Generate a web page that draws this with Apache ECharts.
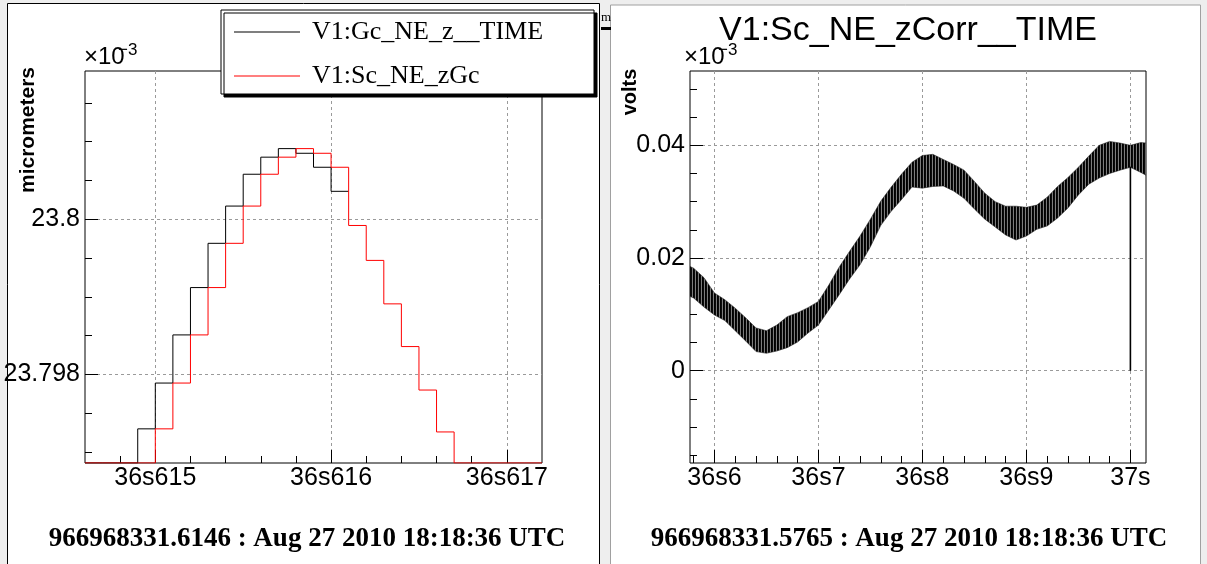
<!DOCTYPE html>
<html><head><meta charset="utf-8">
<script src="https://cdn.jsdelivr.net/npm/echarts@6/dist/echarts.min.js"></script>
<style>html,body{margin:0;padding:0;background:#eeeeee;} #c{width:1207px;height:564px;}</style>
</head><body><div id="c"></div>
<script>
// ---------- LEFT PAD: histograms (values in units of 1e-3 micrometers) ----------
const LEFT_BIN_TIMES = [36.6146, 36.6147, 36.6148, 36.6149, 36.6150, 36.6151, 36.6152, 36.6153, 36.6154,
  36.6155, 36.6156, 36.6157, 36.6158, 36.6159, 36.6160, 36.6161, 36.6162, 36.6163, 36.6164, 36.6165,
  36.6166, 36.6167, 36.6168, 36.6169, 36.6170, 36.6171];
const LEFT_BIN_WIDTH = 0.0001;
const BELOW = 23.7965; // below the frame: ROOT draws these on the frame bottom
const GC_VALUES = [BELOW, BELOW, BELOW, 23.79730, 23.79789, 23.79851, 23.79912, 23.79969, 23.80017,
  23.80058, 23.80080, 23.80091, 23.80085, 23.80067, 23.80036];
const SC_VALUES = [BELOW, BELOW, BELOW, BELOW, 23.79730, 23.79789, 23.79851, 23.79912, 23.79969, 23.80017,
  23.80058, 23.80080, 23.80091, 23.80085, 23.80067, 23.79992, 23.79947, 23.79891, 23.79836, 23.79780,
  23.79726, BELOW, BELOW, BELOW, BELOW, BELOW];
const LEFT_X_MIN = 36.6146, LEFT_X_MAX = 36.6172;
const LEFT_Y_MIN = 23.79686, LEFT_Y_MAX = 23.80191;
const LEFT_X_MAJOR = [36.615, 36.616, 36.617];
const LEFT_X_LABELS = ['36s615', '36s616', '36s617'];
const LEFT_X_MINOR = [36.6148, 36.6152, 36.6154, 36.6156, 36.6158, 36.6162, 36.6164, 36.6166, 36.6168];
const LEFT_Y_MAJOR = [23.798, 23.8];
const LEFT_Y_LABELS = ['23.798', '23.8'];
const LEFT_Y_MINOR = [23.797, 23.7975, 23.7985, 23.799, 23.7995, 23.8005, 23.801, 23.8015];

// ---------- RIGHT PAD: V1:Sc_NE_zCorr__TIME (units of 1e-3 volts) ----------
const BAND_TIME = [36.5765, 36.58, 36.59, 36.60, 36.61, 36.62, 36.63, 36.64, 36.65, 36.66, 36.67, 36.68,
  36.69, 36.70, 36.71, 36.72, 36.73, 36.74, 36.75, 36.76, 36.77, 36.78, 36.79, 36.80, 36.81, 36.82, 36.83,
  36.84, 36.85, 36.86, 36.87, 36.88, 36.89, 36.90, 36.91, 36.92, 36.93, 36.94, 36.95, 36.96, 36.97, 36.98,
  36.99, 37.00, 37.01, 37.015];
const BAND_TOP = [0.0185, 0.0182, 0.0165, 0.0138, 0.0126, 0.0111, 0.0094, 0.0076, 0.0071, 0.0081, 0.0096,
  0.0103, 0.0112, 0.0123, 0.0152, 0.0184, 0.0212, 0.0239, 0.0269, 0.0301, 0.0326, 0.0349, 0.0370, 0.0382,
  0.0384, 0.0375, 0.0366, 0.0356, 0.0336, 0.0315, 0.0300, 0.0292, 0.0292, 0.0290, 0.0294, 0.0308, 0.0327,
  0.0343, 0.0361, 0.0381, 0.0400, 0.0407, 0.0404, 0.0400, 0.0405, 0.0404];
const BAND_BOTTOM = [0.0132, 0.0129, 0.0113, 0.0099, 0.0089, 0.0071, 0.0053, 0.0034, 0.0031, 0.0035, 0.0041,
  0.0051, 0.0067, 0.0081, 0.0108, 0.0135, 0.0163, 0.0188, 0.0220, 0.0258, 0.0283, 0.0304, 0.0326, 0.0324,
  0.0327, 0.0328, 0.0319, 0.0306, 0.0287, 0.0269, 0.0255, 0.0241, 0.0232, 0.0239, 0.0251, 0.0257, 0.0271,
  0.0289, 0.0312, 0.0331, 0.0342, 0.0350, 0.0356, 0.0361, 0.0352, 0.0347];
const SPIKE_TIME = 37.0, SPIKE_FROM = 0.0362, SPIKE_VALUE = 0;
const RIGHT_X_MIN = 36.5765, RIGHT_X_MAX = 37.015;
const RIGHT_Y_MIN = -0.01637, RIGHT_Y_MAX = 0.05319;
const RIGHT_X_MAJOR = [36.6, 36.7, 36.8, 36.9, 37.0];
const RIGHT_X_LABELS = ['36s6', '36s7', '36s8', '36s9', '37s'];
const RIGHT_X_MINOR = [36.58, 36.62, 36.64, 36.66, 36.68, 36.72, 36.74, 36.76, 36.78, 36.82, 36.84, 36.86,
  36.88, 36.92, 36.94, 36.96, 36.98];
const RIGHT_Y_MAJOR = [0, 0.02, 0.04];
const RIGHT_Y_LABELS = ['0', '0.02', '0.04'];
const RIGHT_Y_MINOR = [-0.015, -0.01, -0.005, 0.005, 0.01, 0.015, 0.025, 0.03, 0.035, 0.045, 0.05];

// ---------- helpers ----------
const SANS = 'Liberation Sans', SERIF = 'Liberation Serif';
function labelFor(list, labels) {
  return function (v) {
    let bi = 0;
    for (let i = 1; i < list.length; i++) if (Math.abs(v - list[i]) < Math.abs(v - list[bi])) bi = i;
    return labels[bi];
  };
}
function axisPair(dim, grid, min, max, major, labels, minor) {
  const pos = dim === 'x' ? 'bottom' : 'left';
  return [
    { type: 'value', gridIndex: grid, min: min, max: max, position: pos,
      axisLine: { show: false, onZero: false },
      axisTick: { show: true, inside: true, length: 13, customValues: major, lineStyle: { color: '#000', width: 1 } },
      axisLabel: { show: true, customValues: major, formatter: labelFor(major, labels), color: '#000',
        fontFamily: SANS, fontSize: 25, lineHeight: 25, margin: dim === 'x' ? 3 : 5 },
      splitLine: { show: true, lineStyle: { color: '#9a9a9a', type: [3, 3], width: 1 } },
      minorTick: { show: false }, minorSplitLine: { show: false } },
    { type: 'value', gridIndex: grid, min: min, max: max, position: pos,
      axisLine: { show: false, onZero: false },
      axisTick: { show: true, inside: true, length: 7, customValues: minor, lineStyle: { color: '#000', width: 1 } },
      axisLabel: { show: false }, splitLine: { show: false } }
  ];
}
function stepPoints(times, values) {
  const pts = values.map((v, i) => [times[i], Math.max(v, LEFT_Y_MIN)]);
  const n = values.length - 1;
  pts.push([times[n] + LEFT_BIN_WIDTH, Math.max(values[n], LEFT_Y_MIN)]);
  return pts;
}
// stripe pattern for the dense oscillation band
const pc = document.createElement('canvas');
pc.width = 3; pc.height = 1;
const pctx = pc.getContext('2d');
['#000000', '#0a0a0a', '#7c7c7c'].forEach((c, i) => { pctx.fillStyle = c; pctx.fillRect(i, 0, 1, 1); });

const chart = echarts.init(document.getElementById('c'), null, { renderer: 'canvas' });
const option = {
  animation: false,
  backgroundColor: '#eeeeee',
  grid: [
    { left: 85, top: 71, width: 457, height: 392, show: true, borderColor: '#000', borderWidth: 1,
      backgroundColor: 'rgba(0,0,0,0)', outerBoundsMode: 'none', containLabel: false },
    { left: 690, top: 71, width: 456, height: 392, show: true, borderColor: '#000', borderWidth: 1,
      backgroundColor: 'rgba(0,0,0,0)', outerBoundsMode: 'none', containLabel: false }
  ],
  xAxis: [].concat(
    axisPair('x', 0, LEFT_X_MIN, LEFT_X_MAX, LEFT_X_MAJOR, LEFT_X_LABELS, LEFT_X_MINOR),
    axisPair('x', 1, RIGHT_X_MIN, RIGHT_X_MAX, RIGHT_X_MAJOR, RIGHT_X_LABELS, RIGHT_X_MINOR)),
  yAxis: [].concat(
    axisPair('y', 0, LEFT_Y_MIN, LEFT_Y_MAX, LEFT_Y_MAJOR, LEFT_Y_LABELS, LEFT_Y_MINOR),
    axisPair('y', 1, RIGHT_Y_MIN, RIGHT_Y_MAX, RIGHT_Y_MAJOR, RIGHT_Y_LABELS, RIGHT_Y_MINOR)),
  legend: {
    data: ['V1:Gc_NE_z__TIME', 'V1:Sc_NE_zGc'],
    orient: 'vertical', left: 221, top: 10, icon: 'rect', itemWidth: 66, itemHeight: 1, itemGap: 16,
    padding: [8, 10, 4, 13], backgroundColor: '#ffffff', borderColor: '#000', borderWidth: 1, borderRadius: 0,
    shadowColor: '#000', shadowBlur: 0, shadowOffsetX: 3, shadowOffsetY: 3,
    selectedMode: false,
    textStyle: { fontFamily: SERIF, fontSize: 26, color: '#000', lineHeight: 28, width: 272, padding: [0, 0, 0, 7] }
  },
  series: [
    { name: 'V1:Gc_NE_z__TIME', type: 'line', xAxisIndex: 0, yAxisIndex: 0, step: 'end', symbol: 'none',
      data: stepPoints(LEFT_BIN_TIMES, GC_VALUES), lineStyle: { color: '#000000', width: 1 },
      itemStyle: { color: '#000000' }, clip: true, z: 3 },
    { name: 'V1:Sc_NE_zGc', type: 'line', xAxisIndex: 0, yAxisIndex: 0, step: 'end', symbol: 'none',
      data: stepPoints(LEFT_BIN_TIMES, SC_VALUES), lineStyle: { color: '#ff0000', width: 1 },
      itemStyle: { color: '#ff0000' }, clip: true, z: 4 },
    { name: 'V1:Sc_NE_zCorr__TIME', type: 'custom', xAxisIndex: 2, yAxisIndex: 2, clip: true,
      data: BAND_TIME.map((t, i) => [t, BAND_TOP[i], BAND_BOTTOM[i]]),
      encode: { x: 0, y: [1, 2] },
      renderItem: function (params, api) {
        if (params.dataIndex !== 0) return null;
        const pts = [];
        for (let i = 0; i < BAND_TIME.length; i++) pts.push(api.coord([BAND_TIME[i], BAND_TOP[i]]));
        for (let i = BAND_TIME.length - 1; i >= 0; i--) pts.push(api.coord([BAND_TIME[i], BAND_BOTTOM[i]]));
        return { type: 'polygon', shape: { points: pts },
          style: { fill: { image: pc, repeat: 'repeat' }, stroke: 'rgba(30,30,30,0.7)', lineWidth: 0.8 } };
      } },
    { name: 'spike', type: 'line', xAxisIndex: 2, yAxisIndex: 2, symbol: 'none',
      data: [[SPIKE_TIME, SPIKE_FROM], [SPIKE_TIME, SPIKE_VALUE]],
      lineStyle: { color: '#000', width: 1.6 }, clip: true, z: 4 }
  ],
  graphic: [
    { type: 'rect', z: -10, silent: true, shape: { x: 7.5, y: 3.5, width: 592, height: 570 },
      style: { fill: '#ffffff', stroke: '#000', lineWidth: 1 } },
    { type: 'rect', z: -10, silent: true, shape: { x: 610.5, y: 5, width: 590, height: 570 },
      style: { fill: '#ffffff', stroke: '#a0a0a0', lineWidth: 1 } },
    { type: 'rect', z: -9, silent: true, shape: { x: 601, y: 27, width: 10, height: 3 }, style: { fill: '#000' } },
    { type: 'text', z: -9, silent: true, style: { text: 'm', x: 601, y: 11, align: 'left', verticalAlign: 'top',
        fontFamily: SERIF, fontSize: 13, fill: '#000' } },
    { type: 'text', z: 100, silent: true, x: 28, y: 130, rotation: Math.PI / 2,
      style: { text: 'micrometers', x: 0, y: 0, align: 'center', verticalAlign: 'middle',
        fontFamily: SANS, fontWeight: 'bold', fontSize: 21, fill: '#000' } },
    { type: 'text', z: 100, silent: true, x: 630, y: 92, rotation: Math.PI / 2,
      style: { text: 'volts', x: 0, y: 0, align: 'center', verticalAlign: 'middle',
        fontFamily: SANS, fontWeight: 'bold', fontSize: 20, fill: '#000' } },
    { type: 'text', z: 100, silent: true, style: { text: '\u00d710', x: 84, y: 69, align: 'left', verticalAlign: 'bottom',
        fontFamily: SANS, fontSize: 24, fill: '#000' } },
    { type: 'text', z: 100, silent: true, style: { text: '\u22123', x: 118, y: 42, align: 'left', verticalAlign: 'top',
        fontFamily: SANS, fontSize: 17, fill: '#000' } },
    { type: 'text', z: 100, silent: true, style: { text: '\u00d710', x: 684, y: 69, align: 'left', verticalAlign: 'bottom',
        fontFamily: SANS, fontSize: 24, fill: '#000' } },
    { type: 'text', z: 100, silent: true, style: { text: '\u22123', x: 718, y: 42, align: 'left', verticalAlign: 'top',
        fontFamily: SANS, fontSize: 17, fill: '#000' } },
    { type: 'text', z: 99, silent: true, style: { text: 'V1:Sc_NE_zCorr__TIME', x: 908, y: 31, align: 'center',
        verticalAlign: 'middle', fontFamily: SANS, fontSize: 34, fill: '#000' } },
    { type: 'text', z: 100, silent: true, style: { text: '966968331.6146 : Aug 27 2010 18:18:36 UTC', x: 307, y: 539,
        align: 'center', verticalAlign: 'middle', fontFamily: SERIF, fontWeight: 'bold', fontSize: 27, fill: '#000' } },
    { type: 'text', z: 100, silent: true, style: { text: '966968331.5765 : Aug 27 2010 18:18:36 UTC', x: 909, y: 539,
        align: 'center', verticalAlign: 'middle', fontFamily: SERIF, fontWeight: 'bold', fontSize: 27, fill: '#000' } }
  ]
};
chart.setOption(option);
</script></body></html>
